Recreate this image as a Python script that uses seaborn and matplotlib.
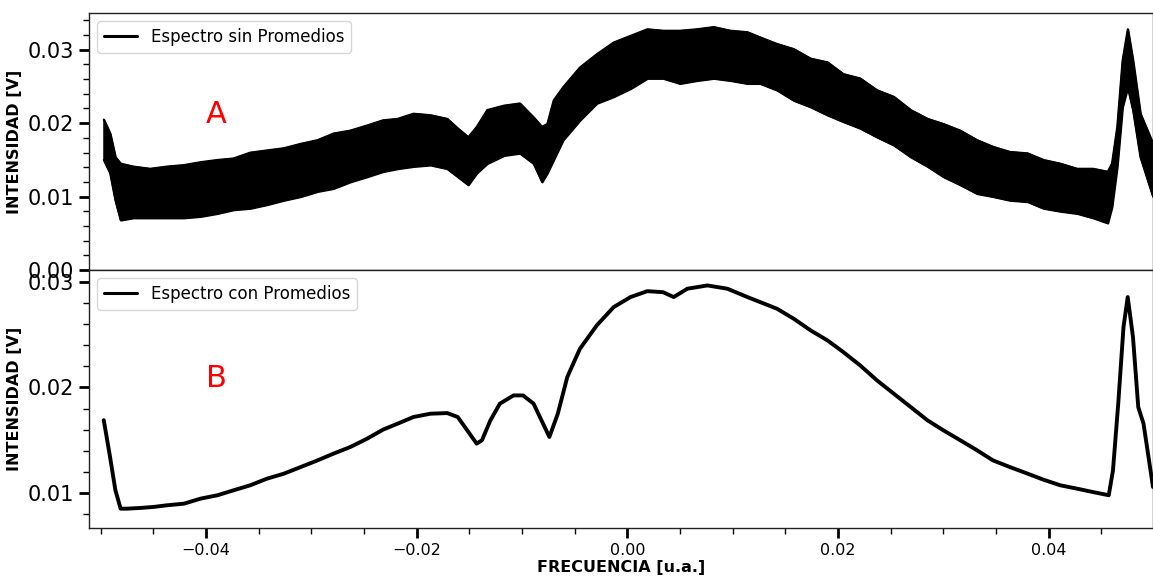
import numpy as np
import pandas as pd
import matplotlib
matplotlib.use("Agg")
import matplotlib.pyplot as plt
from matplotlib.ticker import MultipleLocator
import seaborn as sns

# ---- Top panel: raw spectrum envelope ----
top_x = [-0.0497, -0.0491, -0.0486, -0.0481, -0.0469, -0.0453, -0.0437, -0.0421, -0.0405,
         -0.0389, -0.0374, -0.0358, -0.0342, -0.0326, -0.0310, -0.0294, -0.0279, -0.0263,
         -0.0247, -0.0232, -0.0218, -0.0203, -0.0187, -0.0171, -0.0161, -0.0151, -0.0143,
         -0.0133, -0.0117, -0.0102, -0.0089, -0.0081, -0.0076, -0.0070, -0.0061, -0.0045,
         -0.0029, -0.0013, 0.0003, 0.0019, 0.0034, 0.0050, 0.0066, 0.0082, 0.0098, 0.0114,
         0.0126, 0.0142, 0.0158, 0.0174, 0.0190, 0.0205, 0.0221, 0.0237, 0.0253, 0.0269,
         0.0285, 0.0300, 0.0316, 0.0332, 0.0347, 0.0363, 0.0380, 0.0395, 0.0411, 0.0427,
         0.0442, 0.0456, 0.0460, 0.0465, 0.0470, 0.0475, 0.0480, 0.0487, 0.0499]
top_upper = [0.0205, 0.0186, 0.0154, 0.0145, 0.0141, 0.0138, 0.0141, 0.0143, 0.0147,
             0.0150, 0.0152, 0.0160, 0.0163, 0.0166, 0.0172, 0.0177, 0.0186, 0.0190,
             0.0197, 0.0204, 0.0206, 0.0213, 0.0211, 0.0206, 0.0193, 0.0181, 0.0195,
             0.0218, 0.0224, 0.0227, 0.0208, 0.0195, 0.0199, 0.0231, 0.0249, 0.0276,
             0.0294, 0.0310, 0.0319, 0.0328, 0.0326, 0.0326, 0.0328, 0.0331, 0.0326, 0.0324,
             0.0317, 0.0308, 0.0301, 0.0288, 0.0283, 0.0267, 0.0261, 0.0245, 0.0236, 0.0218,
             0.0206, 0.0199, 0.0190, 0.0177, 0.0168, 0.0161, 0.0159, 0.0150, 0.0145, 0.0138,
             0.0138, 0.0134, 0.0145, 0.0195, 0.0285, 0.0328, 0.0285, 0.0213, 0.0172]
top_lower = [0.0150, 0.0132, 0.0095, 0.0068, 0.0071, 0.0071, 0.0071, 0.0071, 0.0073,
             0.0077, 0.0082, 0.0084, 0.0089, 0.0095, 0.0100, 0.0107, 0.0111, 0.0120,
             0.0127, 0.0134, 0.0138, 0.0141, 0.0143, 0.0138, 0.0127, 0.0116, 0.0132,
             0.0145, 0.0156, 0.0159, 0.0145, 0.0120, 0.0132, 0.0150, 0.0177, 0.0204,
             0.0227, 0.0236, 0.0247, 0.0261, 0.0261, 0.0254, 0.0258, 0.0261, 0.0258, 0.0254,
             0.0254, 0.0245, 0.0231, 0.0222, 0.0211, 0.0202, 0.0193, 0.0181, 0.0170, 0.0154,
             0.0141, 0.0127, 0.0116, 0.0104, 0.0100, 0.0095, 0.0093, 0.0084, 0.0080, 0.0077,
             0.0071, 0.0064, 0.0086, 0.0141, 0.0222, 0.0249, 0.0218, 0.0154, 0.0100]

# ---- Bottom panel: averaged spectrum ----
bot_x = [-0.0497, -0.0491, -0.0486, -0.0481, -0.0475, -0.0462, -0.0450, -0.0437, -0.0421,
         -0.0405, -0.0389, -0.0374, -0.0358, -0.0342, -0.0326, -0.0310, -0.0294, -0.0279,
         -0.0263, -0.0247, -0.0232, -0.0218, -0.0203, -0.0187, -0.0171, -0.0161, -0.0152,
         -0.0143, -0.0138, -0.0130, -0.0121, -0.0108, -0.0099, -0.0089, -0.0080, -0.0074,
         -0.0066, -0.0057, -0.0045, -0.0029, -0.0013, 0.0003, 0.0019, 0.0034, 0.0044,
         0.0057, 0.0076, 0.0095, 0.0114, 0.0126, 0.0142, 0.0158, 0.0174, 0.0190, 0.0205,
         0.0221, 0.0237, 0.0253, 0.0269, 0.0285, 0.0300, 0.0316, 0.0332, 0.0347, 0.0363,
         0.0380, 0.0395, 0.0411, 0.0427, 0.0442, 0.0457, 0.0461, 0.0466, 0.0471, 0.0475,
         0.0480, 0.0485, 0.0490, 0.0499]
bot_y = [0.0169, 0.0134, 0.0103, 0.00853, 0.00853, 0.0086, 0.00869, 0.00885, 0.0090,
         0.00948, 0.0098, 0.01026, 0.01074, 0.01137, 0.01184, 0.01247, 0.0131, 0.01373,
         0.01436, 0.01515, 0.0160, 0.01657, 0.0172, 0.01751, 0.01757, 0.0172, 0.01594,
         0.01468, 0.0150, 0.01688, 0.01846, 0.01924, 0.01924, 0.01846, 0.01657, 0.01531,
         0.01751, 0.02098, 0.02365, 0.02586, 0.02759, 0.02854, 0.0291, 0.0290, 0.02854,
         0.02933, 0.02964, 0.02933, 0.02854, 0.02807, 0.02744, 0.02649, 0.02539, 0.02444,
         0.02334, 0.02208, 0.02066, 0.0194, 0.01814, 0.01688, 0.01594, 0.0150, 0.01405,
         0.0131, 0.01247, 0.01184, 0.01127, 0.01074, 0.01042, 0.0101, 0.0098, 0.01215,
         0.01846, 0.0257, 0.02854, 0.02476, 0.01814, 0.01657, 0.01058]

x_ticks = [-0.04, -0.02, 0.00, 0.02, 0.04]

sns.set_style("ticks")
plt.rcParams['font.family'] = ['DejaVu Sans']
plt.rcParams.update({"text.color": "black", "axes.labelcolor": "black",
                     "xtick.color": "black", "ytick.color": "black"})

fig = plt.figure(figsize=(11.53, 5.76), dpi=100)
ax1 = fig.add_axes([0.0772, 0.53125, 0.9228, 0.44615])
ax2 = fig.add_axes([0.0772, 0.0833, 0.9228, 0.44795], sharex=ax1)

df_top = pd.DataFrame({"x": top_x, "upper": top_upper, "lower": top_lower})
df_bot = pd.DataFrame({"x": bot_x, "y": bot_y})

ax1.fill_between(df_top["x"], df_top["lower"], df_top["upper"], color="black", lw=1.5)
sns.lineplot(data=df_top, x="x", y="upper", ax=ax1, color="black", lw=1.4, label="Espectro sin Promedios")
sns.lineplot(data=df_top, x="x", y="lower", ax=ax1, color="black", lw=1.4)
sns.lineplot(data=df_bot, x="x", y="y", ax=ax2, color="black", lw=2.8, label="Espectro con Promedios")

for ax in (ax1, ax2):
    for s in ax.spines.values():
        s.set_color("#222222")
        s.set_linewidth(1.0)
    ax.yaxis.set_minor_locator(MultipleLocator(0.002))
    ax.xaxis.set_minor_locator(MultipleLocator(0.005))
    ax.tick_params(axis="y", which="major", length=7, width=2, labelsize=15, direction="out")
    ax.tick_params(axis="y", which="minor", length=4, width=1, direction="out")
    ax.set_ylabel("INTENSIDAD [V]", fontsize=11.5, fontweight="bold")
    ax.set_xlabel("")

ax1.set_xlim(-0.0511, 0.0499)
ax1.set_ylim(0.0, 0.035)
ax1.set_yticks([0.00, 0.01, 0.02, 0.03])
ax1.set_yticklabels(["0.00", "0.01", "0.02", "0.03"])
ax1.tick_params(axis="x", which="both", bottom=False, labelbottom=False)

ax2.set_ylim(0.0067, 0.0311)
ax2.set_yticks([0.01, 0.02, 0.03])
ax2.set_yticklabels(["0.01", "0.02", "0.03"])
ax2.set_xticks(x_ticks)
ax2.set_xticklabels(["\u22120.04", "\u22120.02", "0.00", "0.02", "0.04"])
ax2.tick_params(axis="x", which="major", length=7, width=2, labelsize=11.5)
ax2.tick_params(axis="x", which="minor", length=4, width=1)
ax2.set_xlabel("FRECUENCIA [u.a.]", fontsize=11.5, fontweight="bold", labelpad=2)

ax1.text(-0.04, 0.02, "A", color="red", fontsize=22)
ax2.text(-0.04, 0.02, "B", color="red", fontsize=22)

for ax in (ax1, ax2):
    leg = ax.legend(loc="upper left", fontsize=12, handlelength=2.0, borderaxespad=0.5)
    for h in leg.get_lines():
        h.set_linewidth(2.2)

fig.savefig("out.png", dpi=100)
